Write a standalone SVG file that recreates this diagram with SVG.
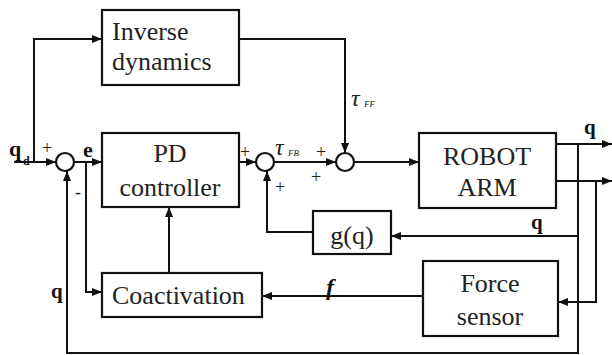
<svg xmlns="http://www.w3.org/2000/svg" width="612" height="355" viewBox="0 0 612 355">
<style>
.box{fill:#fff;stroke:#111;stroke-width:2.2}
.sum{fill:#fff;stroke:#111;stroke-width:2.2}
.ln{fill:none;stroke:#111;stroke-width:2}
text{font-family:'Liberation Serif',Tinos,'Times New Roman',Times,'Noto Serif','DejaVu Serif',serif}
.t{font-size:26px;fill:#222}
.tc{text-anchor:middle}
.b{font-weight:bold;font-size:22px;fill:#111}
.pm{font-size:18px;fill:#222;text-anchor:middle}
.tau{font-style:italic;font-size:24px;fill:#222}
.sub{font-style:italic;font-size:9px;fill:#222}
</style>
<defs>
<marker id="ah" markerWidth="10" markerHeight="8" refX="10" refY="4" orient="auto" markerUnits="userSpaceOnUse">
<path d="M0,0 L10,4 L0,8 z" fill="#111"/>
</marker>
</defs>
<rect width="612" height="355" fill="#fff"/>
<g id="connectors">
<path class="ln" d="M14,162 H56" marker-end="url(#ah)"/>
<path class="ln" d="M34,162 V39 H102" marker-end="url(#ah)"/>
<path class="ln" d="M74,162 H102" marker-end="url(#ah)"/>
<path class="ln" d="M86,162 V292 H102" marker-end="url(#ah)"/>
<path class="ln" d="M169,273 V207" marker-end="url(#ah)"/>
<path class="ln" d="M239,162 H256" marker-end="url(#ah)"/>
<path class="ln" d="M274,162 H336" marker-end="url(#ah)"/>
<path class="ln" d="M239,39 H345 V153" marker-end="url(#ah)"/>
<path class="ln" d="M354,162 H419" marker-end="url(#ah)"/>
<path class="ln" d="M556,144 H612" marker-end="url(#ah)"/>
<path class="ln" d="M556,181 H612" marker-end="url(#ah)"/>
<path class="ln" d="M578,144 V353 H67 V171" marker-end="url(#ah)"/>
<path class="ln" d="M578,236 H391" marker-end="url(#ah)"/>
<path class="ln" d="M313,232 H267 V171" marker-end="url(#ah)"/>
<path class="ln" d="M596,181 V302 H558" marker-end="url(#ah)"/>
<path class="ln" d="M423,296 H262" marker-end="url(#ah)"/>
</g>
<g id="inverse-dynamics">
<rect class="box" x="102" y="10" width="137" height="75"/>
<text class="t" x="112" y="40">Inverse</text>
<text class="t" x="112" y="70">dynamics</text>
</g>
<g id="pd-controller">
<rect class="box" x="102" y="133" width="137" height="74"/>
<text class="t tc" x="170" y="162">PD</text>
<text class="t tc" x="170" y="196">controller</text>
</g>
<g id="robot-arm">
<rect class="box" x="419" y="133" width="137" height="75"/>
<text class="t tc" x="487" y="165">ROBOT</text>
<text class="t tc" x="487" y="196">ARM</text>
</g>
<g id="gq">
<rect class="box" x="313" y="211" width="78" height="43"/>
<text class="t tc" x="352" y="244">g(q)</text>
</g>
<g id="coactivation">
<rect class="box" x="102" y="273" width="160" height="44"/>
<text class="t" x="112" y="304">Coactivation</text>
</g>
<g id="force-sensor">
<rect class="box" x="423" y="261" width="135" height="75"/>
<text class="t tc" x="490" y="292">Force</text>
<text class="t tc" x="490" y="325">sensor</text>
</g>
<g id="sum1"><circle class="sum" cx="65" cy="162" r="9"/></g>
<g id="sum2"><circle class="sum" cx="265" cy="162" r="9"/></g>
<g id="sum3"><circle class="sum" cx="345" cy="162" r="9"/></g>
<g id="labels">
<text class="b" x="9" y="156">q</text>
<text class="b" x="23" y="165" style="font-size:12px">d</text>
<text class="b" x="83" y="157">e</text>
<text class="b" x="584" y="134" style="font-size:21px">q</text>
<text class="b" x="531" y="229" style="font-size:21px">q</text>
<text class="b" x="51" y="298" style="font-size:21px">q</text>
<text class="tau" x="351" y="106">τ</text>
<text class="sub" x="364" y="107">FF</text>
<text class="tau" x="275" y="155">τ</text>
<text class="sub" x="288" y="156">FB</text>
<text x="326" y="295" style="font-style:italic;font-weight:bold;font-size:24px;fill:#111">f</text>
<text class="pm" x="47" y="154">+</text>
<text class="pm" x="245" y="158">+</text>
<text class="pm" x="280" y="193">+</text>
<text class="pm" x="321" y="158">+</text>
<text class="pm" x="316" y="183">+</text>
<text class="pm" x="78" y="198">-</text>
</g>
</svg>
